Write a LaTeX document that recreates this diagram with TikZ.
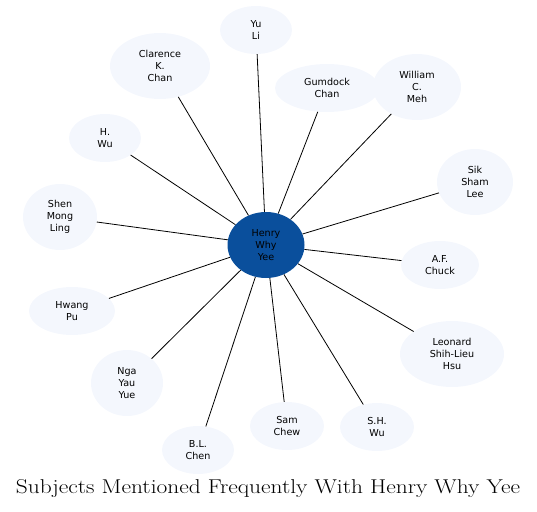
\documentclass[tikz,border=0pt]{standalone}
\usepackage{fontspec}
\usepackage{graphicx}
\newfontfamily\dv{DejaVu Sans}
\usetikzlibrary{shapes.geometric}
\definecolor{lightfill}{HTML}{F4F7FD}
\definecolor{hubfill}{HTML}{0A4F9C}
\tikzset{
  sub/.style={ellipse, fill=lightfill, inner sep=0pt, align=center,
    font=\dv\fontsize{9.6}{11.8}\selectfont},
  hub/.style={ellipse, fill=hubfill, inner sep=0pt, align=center,
    font=\dv\fontsize{9.6}{11.8}\selectfont, text=black},
  link/.style={draw=black, line width=0.8pt}
}
\begin{document}
\begin{tikzpicture}[x=1pt,y=-1pt]
\useasboundingbox (0,0) rectangle (537,511);
\node[hub, minimum width=77, minimum height=66] (h) at (266,245) {Henry\\Why\\Yee};
\node[sub, minimum width=72, minimum height=48] (yl) at (256,30) {Yu\\Li};
\node[sub, minimum width=100, minimum height=66] (ck) at (160,66) {Clarence\\K.\\Chan};
\node[sub, minimum width=104, minimum height=48] (gc) at (327,88) {Gumdock\\Chan};
\node[sub, minimum width=88, minimum height=66] (wm) at (417,87) {William\\C.\\Meh};
\node[sub, minimum width=72, minimum height=48] (hw) at (105,138) {H.\\Wu};
\node[sub, minimum width=76, minimum height=66] (ss) at (475,182) {Sik\\Sham\\Lee};
\node[sub, minimum width=74, minimum height=66] (sm) at (60,217) {Shen\\Mong\\Ling};
\node[sub, minimum width=78, minimum height=48] (af) at (440,265) {A.F.\\Chuck};
\node[sub, minimum width=86, minimum height=48] (hp) at (72,311) {Hwang\\Pu};
\node[sub, minimum width=104, minimum height=66] (ls) at (452,354) {Leonard\\Shih-Lieu\\Hsu};
\node[sub, minimum width=72, minimum height=66] (ny) at (127,383) {Nga\\Yau\\Yue};
\node[sub, minimum width=74, minimum height=48] (sc) at (287,426) {Sam\\Chew};
\node[sub, minimum width=74, minimum height=48] (sw) at (377,427) {S.H.\\Wu};
\node[sub, minimum width=72, minimum height=48] (bl) at (198,450) {B.L.\\Chen};
\foreach \n in {yl,ck,gc,wm,hw,ss,sm,af,hp,ls,ny,sc,sw,bl}
  \draw[link] (h) -- (\n);
\node[inner sep=0pt] (title) at (268,489) {\resizebox{504pt}{!}{\scalebox{1.17}[1]{\fontsize{18.6}{20}\selectfont Subjects Mentioned Frequently With Henry Why Yee}}};
\end{tikzpicture}
\end{document}
